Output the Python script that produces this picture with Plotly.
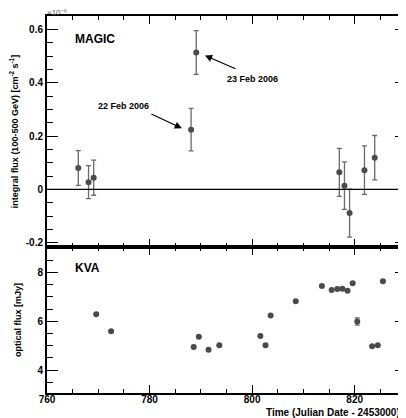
import plotly.graph_objects as go
from plotly.subplots import make_subplots

# MAGIC integral flux (1e-9 cm^-2 s^-1)
magic_t = [766.1, 768.1, 769.1, 788.1, 789.1, 817.0, 818.0, 819.0, 821.9, 823.9]
magic_f = [0.080, 0.027, 0.044, 0.224, 0.513, 0.064, 0.014, -0.089, 0.072, 0.119]
magic_e = [0.065, 0.062, 0.066, 0.080, 0.082, 0.090, 0.089, 0.090, 0.091, 0.083]

# KVA optical flux (mJy)
kva_t = [769.6, 772.5, 788.6, 789.6, 791.5, 793.6, 801.6, 802.6, 803.6, 808.5,
         813.6, 815.5, 816.6, 817.6, 818.6, 819.6, 820.5, 823.4, 824.5, 825.5]
kva_f = [6.29, 5.59, 4.94, 5.36, 4.83, 5.02, 5.39, 5.02, 6.23, 6.82,
         7.44, 7.28, 7.32, 7.33, 7.25, 7.56, 5.99, 4.97, 5.02, 7.64]
kva_e = [0, 0, 0, 0, 0, 0, 0, 0, 0, 0,
         0, 0, 0, 0, 0, 0, 0.15, 0, 0, 0]

magic_ticks = [-0.2, 0, 0.2, 0.4, 0.6]
magic_ticktext = ["-0.2", "0", "0.2", "0.4", "0.6"]

FONT = "Liberation Sans"
MK = "#4a4a4a"
EB = "#6a6a6a"

fig = make_subplots(rows=2, cols=1, shared_xaxes=True, vertical_spacing=0,
                    row_heights=[231 / 377, 146 / 377])

fig.add_trace(go.Scatter(
    x=magic_t, y=magic_f, mode="markers",
    marker=dict(color=MK, size=6),
    error_y=dict(type="data", array=magic_e, color=EB, thickness=1.3, width=2.5),
    showlegend=False), row=1, col=1)

fig.add_trace(go.Scatter(
    x=kva_t, y=kva_f, mode="markers",
    marker=dict(color=MK, size=6),
    error_y=dict(type="data", array=kva_e, color=EB, thickness=1.3, width=2.5),
    showlegend=False), row=2, col=1)

axis_common = dict(showline=True, linecolor="black", linewidth=2, mirror="ticks",
                   ticks="inside", tickcolor="black", showgrid=False, zeroline=False,
                   automargin=False,
                   tickfont=dict(family=FONT, size=10, color="black", weight="bold"))

fig.update_xaxes(range=[760, 830], dtick=20, tick0=760, ticklen=8, tickwidth=1.3,
                 minor=dict(dtick=5, ticklen=4, ticks="inside", tickcolor="black", tickwidth=1),
                 **axis_common)
fig.update_xaxes(showticklabels=False, row=1, col=1)
fig.update_xaxes(showticklabels=True, ticklabelstandoff=-4, row=2, col=1)

fig.update_yaxes(range=[-0.216, 0.65], tickvals=magic_ticks, ticktext=magic_ticktext,
                 ticklen=11, tickwidth=1.3,
                 minor=dict(dtick=0.05, tick0=0, ticklen=6, ticks="inside", tickcolor="black", tickwidth=1),
                 title=dict(text="integral flux (100-500 GeV) [cm<sup>-2</sup> s<sup>-1</sup>]",
                            font=dict(family=FONT, size=9, color="black", weight="bold"),
                            standoff=8),
                 row=1, col=1, **axis_common)
fig.update_yaxes(range=[3.06, 9.04], dtick=2, tick0=0, ticklen=11, tickwidth=1.3,
                 minor=dict(dtick=0.5, ticklen=6, ticks="inside", tickcolor="black", tickwidth=1),
                 title=dict(text="optical flux [mJy]",
                            font=dict(family=FONT, size=9, color="black", weight="bold"),
                            standoff=14),
                 row=2, col=1, **axis_common)

# zero line in top panel
fig.add_hline(y=0, line=dict(color="black", width=1.2), row=1, col=1)

ann_font = dict(family=FONT, size=9, color="black", weight="bold")
fig.add_annotation(x=786.3, y=0.229, xref="x", yref="y", ax=-32, ay=-15,
                   showarrow=True, arrowhead=2, arrowsize=1.2, arrowwidth=1.2,
                   arrowcolor="black", text="")
fig.add_annotation(x=775.0, y=0.311, xref="x", yref="y", text="22 Feb 2006",
                   showarrow=False, font=ann_font, xanchor="center", yanchor="middle")
fig.add_annotation(x=790.8, y=0.502, xref="x", yref="y", ax=32, ay=14,
                   showarrow=True, arrowhead=2, arrowsize=1.2, arrowwidth=1.2,
                   arrowcolor="black", text="")
fig.add_annotation(x=800.1, y=0.412, xref="x", yref="y", text="23 Feb 2006",
                   showarrow=False, font=ann_font, xanchor="center", yanchor="middle")

fig.add_annotation(x=765, y=0.562, xref="x", yref="y", text="MAGIC", showarrow=False,
                   font=dict(family=FONT, size=12, color="black", weight="bold"),
                   xanchor="left", yanchor="middle")
fig.add_annotation(x=765, y=8.18, xref="x2", yref="y2", text="KVA", showarrow=False,
                   font=dict(family=FONT, size=12, color="black", weight="bold"),
                   xanchor="left", yanchor="middle")

fig.add_annotation(x=0, y=1, xref="paper", yref="paper", text="×10⁻⁹",
                   showarrow=False, xanchor="left", yanchor="bottom", borderpad=0,
                   font=dict(family=FONT, size=8, color="#555"), yshift=-2, xshift=-1)
fig.add_annotation(x=1, y=0, xref="paper", yref="paper",
                   text="Time (Julian Date - 2453000)", showarrow=False,
                   xanchor="right", yanchor="top", yshift=-12, xshift=-4,
                   font=dict(family=FONT, size=10, color="black", weight="bold"))

# page body has an 8px margin, so the figure is sized to end at the window edges
fig.update_layout(width=398, height=410,
                  margin=dict(l=39, r=0, t=8, b=25, autoexpand=False),
                  plot_bgcolor="white", paper_bgcolor="white",
                  font=dict(family=FONT, color="black"))

fig.write_html("out.html")
